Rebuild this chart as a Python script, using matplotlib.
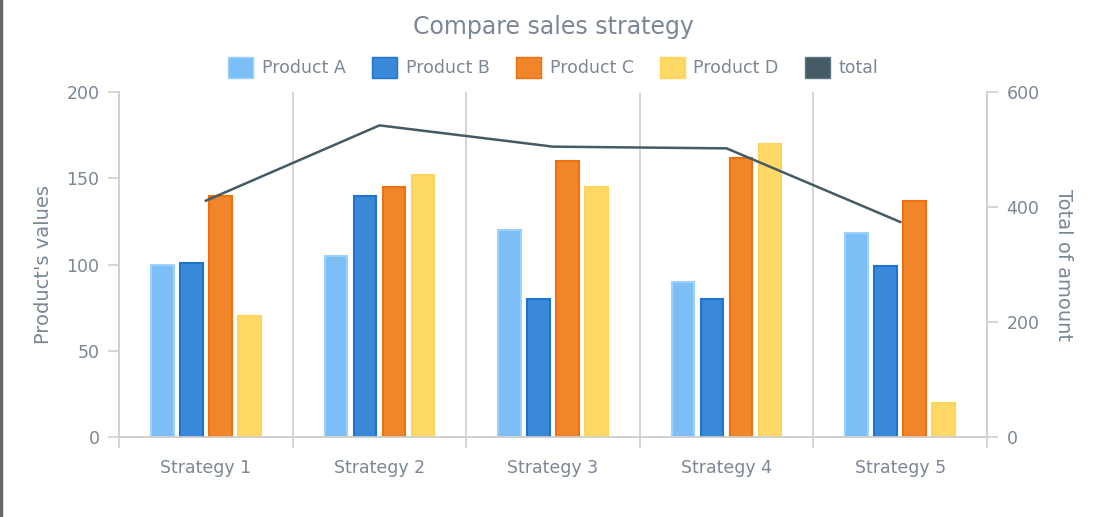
import matplotlib.pyplot as plt
import matplotlib as mpl
import numpy as np
from matplotlib.patches import Patch

mpl.rcParams['font.family'] = ['DejaVu Sans']

# data
strategies = ['Strategy 1', 'Strategy 2', 'Strategy 3', 'Strategy 4', 'Strategy 5']
product_a = [100, 105, 120, 90, 118]
product_b = [101, 140, 80, 80, 99]
product_c = [140, 145, 160, 162, 137]
product_d = [70, 152, 145, 170, 20]
total = [411, 542, 505, 502, 374]

names = ['Product A', 'Product B', 'Product C', 'Product D']
fills = ['#7cbff6', '#3a88d8', '#f0852a', '#ffd966']
edges = ['#9dd0fa', '#1f74cf', '#f07010', '#ffd45a']
line_c = '#455a64'
txt = '#7b8794'
axc = '#d0d0d0'

fig = plt.figure(figsize=(11.2, 5.17), dpi=100)
ax = fig.add_axes([0.1063, 0.1547, 0.775, 0.6673])
ax2 = ax.twinx()

x = np.arange(len(strategies))
step = 0.167
width = 0.13
for i, vals in enumerate([product_a, product_b, product_c, product_d]):
    ax.bar(x + (i - 1.5) * step, vals, width, color=fills[i], edgecolor=edges[i],
           linewidth=1.5, zorder=3)

ax2.plot(x, total, color=line_c, linewidth=1.8, zorder=4)

ax.set_xlim(-0.5, 4.5)
ax.set_ylim(0, 200)
ax2.set_ylim(0, 600)
ax.set_yticks([0, 50, 100, 150, 200])
ax2.set_yticks([0, 200, 400, 600])

# category boundaries as grid lines / ticks
bounds = np.arange(-0.5, 5.0, 1.0)
ax.set_xticks(bounds)
ax.set_xticklabels([])
ax.set_xticks(x, minor=True)
ax.set_xticklabels(strategies, minor=True)
ax.tick_params(axis='x', which='minor', length=0, pad=16, labelsize=12.5, labelcolor=txt)
ax.tick_params(axis='x', which='major', length=8, color=axc, width=1.2)
for b in bounds[1:-1]:
    ax.axvline(b, color=axc, linewidth=1.2, zorder=1)

ax.tick_params(axis='y', length=8, color=axc, width=1.2, labelsize=12.5, labelcolor=txt, pad=6)
ax2.tick_params(axis='y', length=8, color=axc, width=1.2, labelsize=12.5, labelcolor=txt, pad=6)

for a in (ax, ax2):
    a.spines['top'].set_visible(False)
    for s in ('left', 'right', 'bottom'):
        a.spines[s].set_color(axc)
        a.spines[s].set_linewidth(1.2)
    a.set_facecolor('none')

ax.set_ylabel("Product's values", fontsize=14, color=txt, labelpad=10)
ax2.set_ylabel('Total of amount', fontsize=14, color=txt, rotation=270, labelpad=24)

fig.text(0.494, 0.948, 'Compare sales strategy', ha='center', va='center',
         fontsize=17, color=txt)

handles = [Patch(facecolor=fills[i], edgecolor=edges[i], label=names[i]) for i in range(4)]
handles.append(Patch(facecolor=line_c, edgecolor='#5d7582', label='total'))
fig.legend(handles=handles, loc='center', bbox_to_anchor=(0.494, 0.87), ncol=5,
           frameon=False, fontsize=12.5, labelcolor=txt, handlelength=1.45,
           handleheight=1.45, handletextpad=0.5, columnspacing=1.5)

# left border of the frame
fig.add_artist(plt.Line2D([0.001, 0.001], [0, 1], color='#666666', linewidth=2.5,
                          transform=fig.transFigure))

fig.savefig('out.png', dpi=100)
